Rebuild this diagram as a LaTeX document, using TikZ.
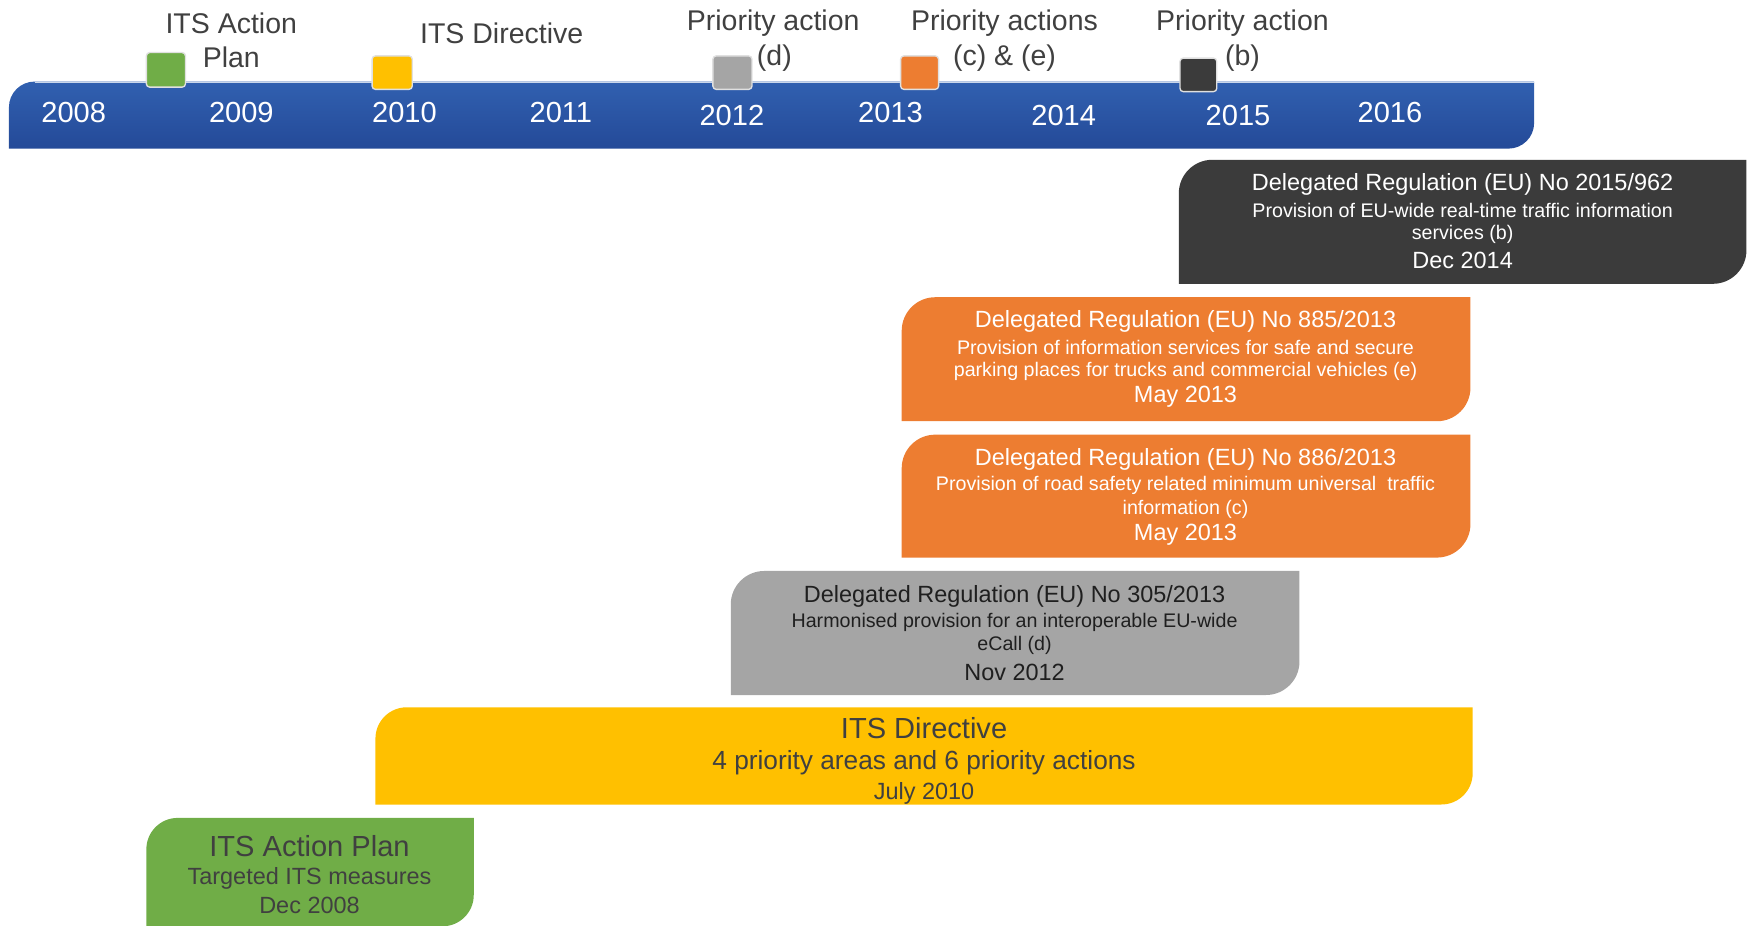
\documentclass[tikz,border=0pt]{standalone}
\usepackage{fontspec}
\setmainfont{Liberation Sans}
\definecolor{tlbluetop}{HTML}{3160B0}
\definecolor{tlbluebot}{HTML}{244A98}
\definecolor{itsgreen}{HTML}{70AD47}
\definecolor{itsgold}{HTML}{FFC000}
\definecolor{itsgray}{HTML}{A5A5A5}
\definecolor{itsorange}{HTML}{ED7D31}
\definecolor{itsdark}{HTML}{3B3B3B}
\definecolor{lblgray}{HTML}{404040}
% leaf shape: rounded top left and bottom right corner
\newcommand{\itsleaf}[6]{%
  \path[#6] (#1,#4) -- (#1,#2+#5) .. controls (#1,#2+0.448*#5) and (#1+0.448*#5,#2) .. (#1+#5,#2)
    -- (#3,#2) -- (#3,#4-#5) .. controls (#3,#4-0.448*#5) and (#3-0.448*#5,#4) .. (#3-#5,#4) -- cycle;}
\begin{document}
\begin{tikzpicture}[x=1pt,y=-1pt,
    yr/.style={text=white, inner sep=0, font=\fontsize{26}{26}\selectfont},
    toplbl/.style={text=lblgray, inner sep=0, font=\fontsize{25.5}{26}\selectfont},
    regtitle/.style={inner sep=0, font=\fontsize{21}{22}\selectfont},
    regbody/.style={inner sep=0, font=\fontsize{17.6}{18}\selectfont},
    regdate/.style={inner sep=0, font=\fontsize{21}{22}\selectfont},
    bigtitle/.style={inner sep=0, font=\fontsize{26}{26}\selectfont},
    flag/.style={draw=white!88!black, line width=1.2, rounded corners=3}]
    \useasboundingbox (0,0) rectangle (1568,828);

    % timeline bar
    \itsleaf{8}{73}{1373}{133}{23}{top color=tlbluetop, bottom color=tlbluebot}
    \draw[white!75!tlbluetop, line width=1.2] (31,73.6) -- (1373,73.6);

    \node[yr] (y2008) at (66, 101) {2008};
    \node[yr] (y2009) at (216, 101) {2009};
    \node[yr] (y2010) at (362, 101) {2010};
    \node[yr] (y2011) at (502, 101) {2011};
    \node[yr] (y2012) at (655, 103) {2012};
    \node[yr] (y2013) at (797, 101) {2013};
    \node[yr] (y2014) at (952, 103) {2014};
    \node[yr] (y2015) at (1108, 103) {2015};
    \node[yr] (y2016) at (1244, 101) {2016};

    % milestones
    \filldraw[flag, fill=itsgreen] (131, 47) rectangle (166, 78);
    \filldraw[flag, fill=itsgold] (333, 50) rectangle (369, 80);
    \filldraw[flag, fill=itsgray] (638, 50) rectangle (673, 80);
    \filldraw[flag, fill=itsorange] (806, 50) rectangle (840, 80);
    \filldraw[flag, fill=itsdark] (1056, 52) rectangle (1089, 82);

    \node[toplbl] (planA) at (207, 21) {ITS Action};
    \node[toplbl] (planB) at (207, 51) {Plan};
    \node[toplbl] (dirA) at (449, 30) {ITS Directive};
    \node[toplbl] (actdA) at (692, 21) {Priority action};
    \node[toplbl] (actdB) at (693, 52) {(d)};
    \node[toplbl] (actceA) at (899, 21) {Priority actions};
    \node[toplbl] (actceB) at (899, 52) {(c) \& (e)};
    \node[toplbl] (actbA) at (1112, 21) {Priority action};
    \node[toplbl] (actbB) at (1112, 52) {(b)};

    % regulation boxes
    \itsleaf{1055}{143}{1563}{254}{30}{fill=itsdark}
    \node[regtitle, text=white] (r962t) at (1309, 165) {Delegated Regulation (EU) No 2015/962};
    \node[regbody, text=white] (r962a) at (1309, 188) {Provision of EU-wide real-time traffic information};
    \node[regbody, text=white] (r962b) at (1309, 210) {services (b)};
    \node[regdate, text=white] (r962d) at (1309, 233) {Dec 2014};

    \itsleaf{807}{266}{1316}{377}{30}{fill=itsorange}
    \node[regtitle, text=white] (r885t) at (1061, 288) {Delegated Regulation (EU) No 885/2013};
    \node[regbody, text=white] (r885a) at (1061, 311) {Provision of information services for safe and secure};
    \node[regbody, text=white] (r885b) at (1061, 332) {parking places for trucks and commercial vehicles (e)};
    \node[regdate, text=white] (r885d) at (1061, 355) {May 2013};

    \itsleaf{807}{389}{1316}{499}{30}{fill=itsorange}
    \node[regtitle, text=white] (r886t) at (1061, 411) {Delegated Regulation (EU) No 886/2013};
    \node[regbody, text=white] (r886a) at (1061, 434) {Provision of road safety related minimum universal~ traffic};
    \node[regbody, text=white] (r886b) at (1061, 456) {information (c)};
    \node[regdate, text=white] (r886d) at (1061, 479) {May 2013};

    \itsleaf{654}{511}{1163}{622}{30}{fill=itsgray}
    \node[regtitle, text=black!88] (r305t) at (908, 534) {Delegated Regulation (EU) No 305/2013};
    \node[regbody, text=black!88] (r305a) at (908, 557) {Harmonised provision for an interoperable EU-wide};
    \node[regbody, text=black!88] (r305b) at (908, 578) {eCall (d)};
    \node[regdate, text=black!88] (r305d) at (908, 602) {Nov 2012};

    \itsleaf{336}{633}{1318}{720}{28}{fill=itsgold}
    \node[bigtitle, text=lblgray] (dirt) at (827, 652) {ITS Directive};
    \node[inner sep=0, font=\fontsize{23.5}{24}\selectfont, text=lblgray] (dira) at (827, 683) {4 priority areas and 6 priority actions};
    \node[regdate, text=lblgray] (dird) at (827, 710) {July 2010};

    \itsleaf{131}{732}{424}{829}{28}{fill=itsgreen}
    \node[bigtitle, text=lblgray] (plant) at (277, 757) {ITS Action Plan};
    \node[regdate, text=lblgray] (plana) at (277, 786) {Targeted ITS measures};
    \node[regdate, text=lblgray] (pland) at (277, 810) {Dec 2008};
\end{tikzpicture}
\end{document}
